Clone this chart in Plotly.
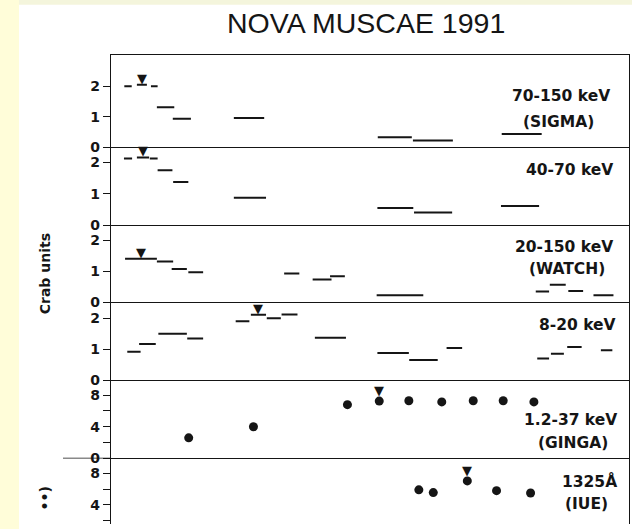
import plotly.graph_objects as go

# ---------------- data (x in days from an arbitrary origin, y in panel units) ----------------
# 70-150 keV (SIGMA): bins start, end, flux (Crab)
sig_hi_start = [3.6, 7.0, 10.8, 12.4, 16.7, 33.2, 72.1, 81.6, 105.6]
sig_hi_end   = [5.6, 9.7, 12.6, 17.1, 21.6, 41.4, 81.3, 92.4, 116.4]
sig_hi_val   = [2.0, 2.05, 2.0, 1.31, 0.94, 0.96, 0.33, 0.23, 0.44]
sig_hi_peak  = (8.4, 2.05)

# 40-70 keV (SIGMA)
sig_lo_start = [3.5, 7.0, 10.5, 12.6, 16.8, 33.2, 72.0, 81.9, 105.4]
sig_lo_end   = [5.7, 10.3, 12.6, 16.6, 20.9, 41.9, 81.7, 92.2, 115.7]
sig_lo_val   = [2.13, 2.16, 2.13, 1.75, 1.38, 0.88, 0.55, 0.41, 0.62]
sig_lo_peak  = (8.6, 2.16)

# 20-150 keV (WATCH)
watch_start = [3.8, 12.4, 16.4, 20.9, 46.8, 54.5, 59.2, 71.8, 114.8, 118.6, 123.6, 130.4]
watch_end   = [12.4, 16.8, 20.5, 24.9, 50.9, 59.6, 63.2, 84.4, 118.4, 122.9, 127.6, 135.8]
watch_val   = [1.40, 1.31, 1.07, 0.97, 0.93, 0.74, 0.84, 0.23, 0.35, 0.57, 0.37, 0.23]
watch_peak  = (8.2, 1.40)

# 8-20 keV
soft_start = [4.4, 7.6, 12.8, 20.6, 33.7, 37.8, 42.1, 46.1, 55.1, 72.0, 80.6, 90.7, 115.2, 118.9, 123.3, 132.4]
soft_end   = [8.0, 12.1, 20.5, 24.9, 37.4, 41.9, 45.9, 50.4, 63.5, 80.5, 88.3, 94.9, 118.4, 122.4, 127.2, 135.5]
soft_val   = [0.92, 1.17, 1.50, 1.35, 1.90, 2.11, 2.00, 2.12, 1.37, 0.88, 0.65, 1.04, 0.70, 0.85, 1.07, 0.97]
soft_peak  = (39.7, 2.11)

# 1.2-37 keV (GINGA)
ginga_day  = [21.0, 38.5, 63.9, 72.5, 80.5, 89.4, 97.9, 106.0, 114.3]
ginga_val  = [2.6, 4.0, 6.8, 7.25, 7.3, 7.15, 7.3, 7.3, 7.15]
ginga_peak = (72.5, 7.25)

# 1325 A (IUE)
iue_day  = [83.2, 87.1, 96.3, 104.2, 113.4]
iue_val  = [5.9, 5.55, 7.05, 5.8, 5.5]
iue_peak = (96.3, 7.05)

panel_labels = [["70-150 keV", "(SIGMA)"], ["40-70 keV"], ["20-150 keV", "(WATCH)"],
                ["8-20 keV"], ["1.2-37 keV", "(GINGA)"], ["1325Å", "(IUE)"]]

# ---------------- layout geometry ----------------
W, H = 632, 532
ML, MR, MT, MB = 111, 3, 55, 0
PW, PH = W - ML - MR, H - MT - MB

def fx(px):
    return (px - ML) / PW

def fy(py):
    return (H - MB - py) / PH

bounds_px = [55, 149, 228.3, 306.7, 385.7, 465.3, 532]
domains = [[fy(bounds_px[i + 1]), fy(bounds_px[i])] for i in range(6)]
domains[0][1] = 1.0
domains[5][0] = 0.0
yranges = [[0, 3.02], [0, 2.48], [0, 2.47], [0, 2.51], [0, 9.9], [1.5, 9.95]]
tickvals = [[0, 1, 2], [0, 1, 2], [0, 1, 2], [0, 1, 2], [0, 2, 4, 6, 8], [2, 4, 6, 8]]
ticktext = [["0", "1", "2"], ["0", "1", "2"], ["0", "1", "2"], ["0", "1", "2"],
            ["0", "", "4", "", "8"], ["", "4", "", "8"]]

INK = "#151515"
fig = go.Figure()

def seg_trace(starts, ends, vals, k):
    xs, ys = [], []
    for s, e, v in zip(starts, ends, vals):
        xs += [s, e, None]
        ys += [v, v, None]
    suffix = "" if k == 1 else str(k)
    return go.Scatter(x=xs, y=ys, mode="lines", line=dict(color=INK, width=2),
                      xaxis="x" + suffix, yaxis="y" + suffix, showlegend=False,
                      hoverinfo="skip")

def dot_trace(xs, ys, k):
    suffix = "" if k == 1 else str(k)
    return go.Scatter(x=xs, y=ys, mode="markers", marker=dict(color=INK, size=9),
                      xaxis="x" + suffix, yaxis="y" + suffix, showlegend=False)

fig.add_trace(seg_trace(sig_hi_start, sig_hi_end, sig_hi_val, 1))
fig.add_trace(seg_trace(sig_lo_start, sig_lo_end, sig_lo_val, 2))
fig.add_trace(seg_trace(watch_start, watch_end, watch_val, 3))
fig.add_trace(seg_trace(soft_start, soft_end, soft_val, 4))
fig.add_trace(dot_trace(ginga_day, ginga_val, 5))
fig.add_trace(dot_trace(iue_day, iue_val, 6))

peaks = [sig_hi_peak, sig_lo_peak, watch_peak, soft_peak, ginga_peak, iue_peak]
annotations = []
for k, (px, pv) in enumerate(peaks, start=1):
    suffix = "" if k == 1 else str(k)
    annotations.append(dict(x=px, y=pv, xref="x" + suffix, yref="y" + suffix,
                            text="▼", showarrow=False, yanchor="bottom",
                            yshift=(1 if k >= 5 else -3),
                            font=dict(size=13, color=INK, family="DejaVu Sans")))

# panel labels (pixel-measured centres)
label_pos = [[(561, 96.7), (558.5, 123)], [(569.5, 171.7)], [(563.5, 250.7), (567, 273)],
             [(577, 329.3)], [(570, 426.7), (573.3, 450)], [(589, 488.3), (586, 511.7)]]
for lines, poss in zip(panel_labels, label_pos):
    for t, (px, py) in zip(lines, poss):
        annotations.append(dict(x=fx(px), y=fy(py), xref="paper", yref="paper", text=t,
                                showarrow=False, xanchor="center", yanchor="middle",
                                font=dict(size=15.5, color=INK, family="DejaVu Sans",
                                          weight="bold")))

annotations.append(dict(x=fx(366), y=fy(22), xref="paper", yref="paper",
                        text="NOVA MUSCAE 1991", showarrow=False,
                        xanchor="center", yanchor="middle",
                        font=dict(size=28.5, color=INK, family="Liberation Sans")))
annotations.append(dict(x=fx(45), y=fy(278), xref="paper", yref="paper", text="Crab units",
                        textangle=-90, showarrow=False, xanchor="center", yanchor="middle",
                        font=dict(size=14, color=INK, family="DejaVu Sans", weight="bold")))
annotations.append(dict(x=fx(45), y=fy(506), xref="paper", yref="paper", text="••)",
                        textangle=-90, showarrow=False, xanchor="center", yanchor="middle",
                        font=dict(size=14, color=INK, family="DejaVu Sans", weight="bold")))

shapes = [
    dict(type="rect", xref="paper", yref="paper", x0=fx(-5), x1=fx(19),
         y0=fy(H + 5), y1=fy(-5), fillcolor="#FFFDD9", line=dict(width=0), layer="below"),
    dict(type="rect", xref="paper", yref="paper", x0=fx(19), x1=fx(W + 5),
         y0=fy(4), y1=fy(-5), fillcolor="#F4F5DC", line=dict(width=0), layer="below"),
    dict(type="line", xref="paper", yref="y5", x0=fx(63), x1=0, y0=0, y1=0,
         line=dict(color=INK, width=1.4)),
]

layout = dict(width=W, height=H, margin=dict(l=ML, r=MR, t=MT, b=MB),
              paper_bgcolor="white", plot_bgcolor="white",
              annotations=annotations, shapes=shapes, showlegend=False)

for k in range(1, 7):
    suffix = "" if k == 1 else str(k)
    layout["xaxis" + suffix] = dict(domain=[0, 1], range=[0, 140], anchor="y" + suffix,
                                    showline=(k < 6), mirror=(k == 1), linecolor=INK,
                                    linewidth=1.4,
                                    showticklabels=False, ticks="", showgrid=False,
                                    zeroline=False,
                                    **({} if k == 1 else {"matches": "x"}))
    layout["yaxis" + suffix] = dict(domain=domains[k - 1], range=yranges[k - 1],
                                    anchor="x" + suffix, showline=True, mirror=True,
                                    linecolor=INK, linewidth=1.4, showgrid=False,
                                    zeroline=False, ticks="outside", ticklen=7,
                                    tickwidth=1.4, tickcolor=INK,
                                    tickvals=tickvals[k - 1], ticktext=ticktext[k - 1],
                                    tickfont=dict(size=14, color=INK, family="DejaVu Sans",
                                                  weight="bold"))

fig.update_layout(**layout)
fig.write_html("out.html", config={"displayModeBar": False},
               post_script="document.body.style.margin='0';document.body.style.background='white';")
